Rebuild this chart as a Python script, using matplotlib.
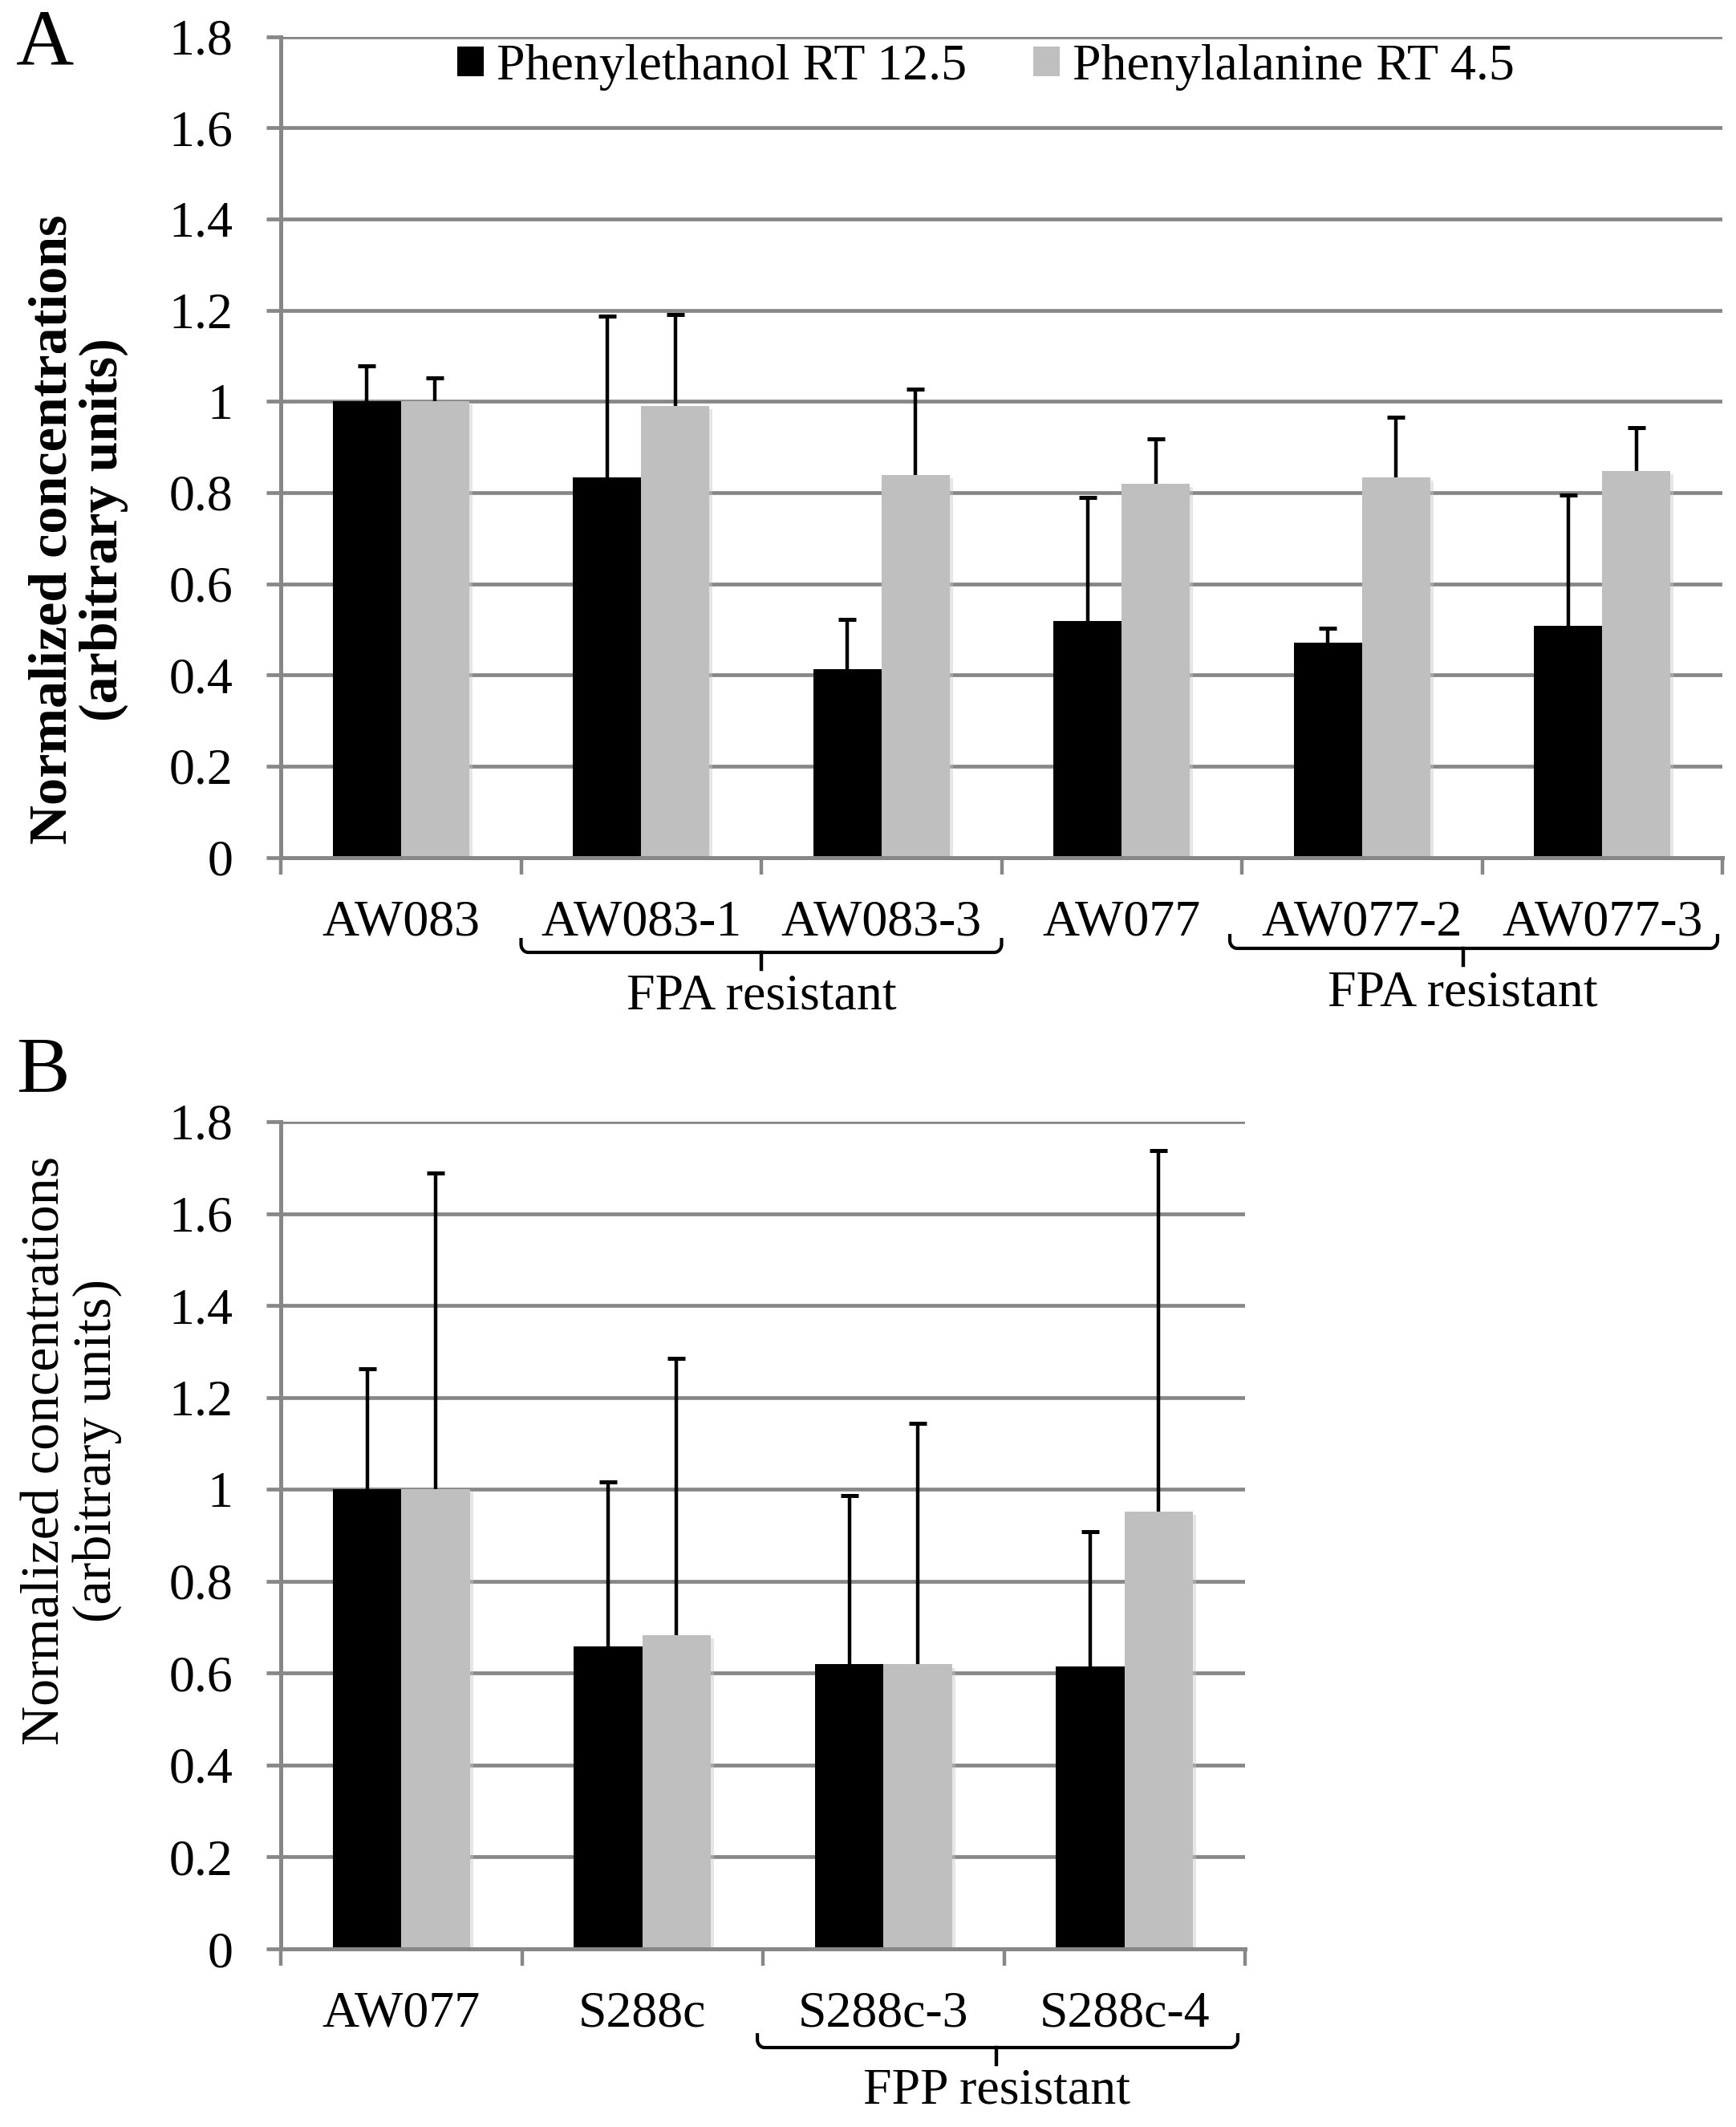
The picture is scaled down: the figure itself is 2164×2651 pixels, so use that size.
import numpy as np
import matplotlib
matplotlib.use("Agg")
import matplotlib.pyplot as plt
from matplotlib.patches import Patch
from matplotlib.transforms import blended_transform_factory
import matplotlib.patheffects as pe

plt.rcParams['font.family'] = ['Liberation Serif', 'DejaVu Serif']

# --- data ---
strains_a = ["AW083", "AW083-1", "AW083-3", "AW077", "AW077-2", "AW077-3"]
phenylethanol_a = [1.0, 0.833, 0.413, 0.519, 0.471, 0.507]
phenylethanol_a_err = [0.078, 0.354, 0.108, 0.270, 0.031, 0.287]
phenylalanine_a = [1.0, 0.990, 0.839, 0.820, 0.834, 0.847]
phenylalanine_a_err = [0.051, 0.200, 0.188, 0.098, 0.131, 0.096]

strains_b = ["AW077", "S288c", "S288c-3", "S288c-4"]
phenylethanol_b = [1.0, 0.659, 0.619, 0.614]
phenylethanol_b_err = [0.263, 0.357, 0.367, 0.294]
phenylalanine_b = [1.0, 0.683, 0.619, 0.952]
phenylalanine_b_err = [0.689, 0.602, 0.525, 0.786]

series_names = ["Phenylethanol RT 12.5", "Phenylalanine RT 4.5"]
yticks = [0, 0.2, 0.4, 0.6, 0.8, 1.0, 1.2, 1.4, 1.6, 1.8]
ytick_labels = ["0", "0.2", "0.4", "0.6", "0.8", "1", "1.2", "1.4", "1.6", "1.8"]

BLACK = "#000000"
GREY = "#bfbfbf"
GRID = "#878787"
W, H = 2164, 2651
FS = 46


def fy(py):
    # pixel row (from top) -> figure fraction
    return 1 - py / H


def draw_panel(ax, names, v1, e1, v2, e2):
    n = len(names)
    x = np.arange(n)
    w = 0.284
    shadow = [pe.SimplePatchShadow(offset=(3, -3), shadow_rgbFace="#c8c8c8", alpha=0.45), pe.Normal()]
    ax.bar(x - w / 2, v1, w, color=BLACK, zorder=2, path_effects=shadow)
    ax.bar(x + w / 2, v2, w, color=GREY, zorder=2, path_effects=shadow)
    for xs, v, e in [(x - w / 2, v1, e1), (x + w / 2, v2, e2)]:
        top = np.array(v) + np.array(e)
        ax.vlines(xs, v, top, color=BLACK, lw=3.2, zorder=3)
        ax.plot(xs, top, ls="none", marker="_", ms=16, mew=3.6, color=BLACK, zorder=3)

    ax.set_xlim(-0.5, n - 0.5)
    ax.set_ylim(0, 1.8)
    ax.set_yticks(yticks)
    ax.set_yticklabels(ytick_labels, fontsize=FS)
    ax.set_xticks(x)
    ax.set_xticklabels(names, fontsize=FS)
    ax.set_xticks(np.arange(n + 1) - 0.5, minor=True)
    ax.tick_params(axis="x", which="major", length=0, pad=38)
    ax.tick_params(axis="x", which="minor", length=15, width=3.2, color=GRID)
    ax.tick_params(axis="y", length=13, width=3.4, color=GRID, pad=30)
    ax.grid(axis="y", color=GRID, lw=3.4)
    ax.set_axisbelow(True)
    for s in ["top", "right"]:
        ax.spines[s].set_visible(False)
    for s in ["left", "bottom"]:
        ax.spines[s].set_color(GRID)
        ax.spines[s].set_linewidth(3.6)


def bracket(ax, x0, x1, xc, y_line, label, y_base):
    tr = blended_transform_factory(ax.transData, fig.transFigure)
    rx = 0.03
    ry = 10 / H
    hook = 8 / H
    yl = fy(y_line)
    t = np.linspace(0, np.pi / 2, 12)
    # ends turn up with a rounded corner
    lx = np.concatenate([[x0], x0 + rx - rx * np.cos(t)])
    ly = np.concatenate([[yl + hook + ry], yl + ry - ry * np.sin(t)])
    rxs = np.concatenate([x1 - rx + rx * np.cos(t[::-1]), [x1]])
    rys = np.concatenate([yl + ry - ry * np.sin(t[::-1]), [yl + hook + ry]])
    xs = np.concatenate([lx, rxs])
    ys = np.concatenate([ly, rys])
    ax.plot(xs, ys, color=BLACK, lw=3.0, transform=tr, clip_on=False, solid_capstyle="butt")
    ax.plot([xc, xc], [yl, yl - 21 / H], color=BLACK, lw=3.2, transform=tr, clip_on=False)
    ax.text(xc, fy(y_base), label, transform=tr, ha="center", va="baseline", fontsize=FS)


fig = plt.figure(figsize=(W / 100, H / 100), dpi=100)
ax_a = fig.add_axes([350 / W, fy(1068.5), (2147 - 350) / W, (1068.5 - 45.6) / H])
ax_b = fig.add_axes([350 / W, fy(2429), (1552 - 350) / W, (2429 - 1398) / H])

draw_panel(ax_a, strains_a, phenylethanol_a, phenylethanol_a_err, phenylalanine_a, phenylalanine_a_err)
draw_panel(ax_b, strains_b, phenylethanol_b, phenylethanol_b_err, phenylalanine_b, phenylalanine_b_err)

handles = [Patch(facecolor=BLACK), Patch(facecolor=GREY)]
ax_a.legend(handles, series_names, loc="center", bbox_to_anchor=(0.489, 0.962), ncol=2,
            frameon=False, fontsize=FS, handlelength=0.52, handleheight=0.52,
            handletextpad=0.25, columnspacing=1.3)

bracket(ax_a, 0.5, 2.5, 1.5, 1187, "FPA resistant", 1258)
bracket(ax_a, 3.45, 5.48, 4.42, 1182, "FPA resistant", 1253)
bracket(ax_b, 1.477, 3.47, 2.47, 2552, "FPP resistant", 2622)

fig.text(56 / W, fy(57), "A", fontsize=72, ha="center", va="center")
fig.text(53 / W, fy(1336), "B", fontsize=72, ha="center", va="center")
fig.text(98 / W, fy(660), "Normalized concentrations\n(arbitrary units)", rotation=90,
         fontsize=49, fontweight="bold", ha="center", va="center", multialignment="center",
         linespacing=1.05)
fig.text(89 / W, fy(1808), "Normalized concentrations\n(arbitrary units)", rotation=90,
         fontsize=49, ha="center", va="center", multialignment="center", linespacing=1.05)

fig.savefig("out.png", dpi=100)
